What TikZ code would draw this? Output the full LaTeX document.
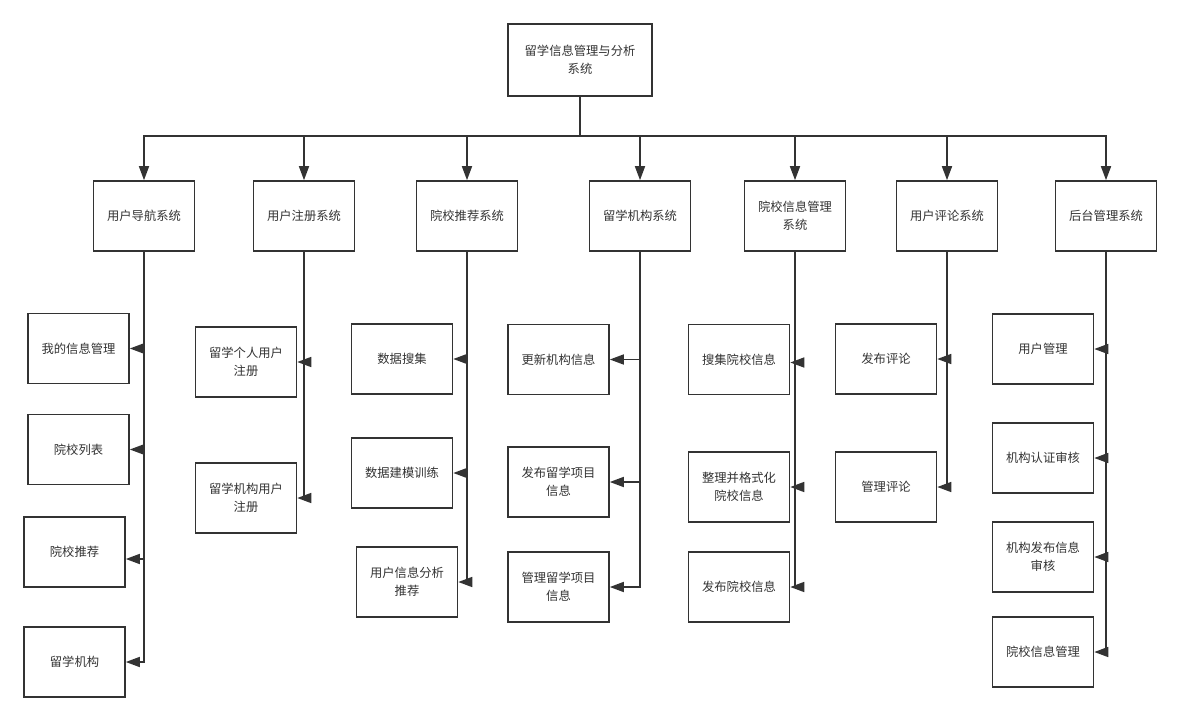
\documentclass[tikz,border=0pt]{standalone}
\usepackage{fontspec}
\setmainfont{Noto Sans CJK SC}
\usetikzlibrary{arrows.meta}
\definecolor{ln}{HTML}{333333}
\definecolor{tx}{HTML}{333333}
\tikzset{
  box/.style={draw=ln, line width=1.6pt, fill=white, minimum width=101pt, minimum height=70pt,
    inner sep=2pt, align=center, text=tx, font=\fontsize{12.3}{18}\selectfont},
  rootbox/.style={box, minimum width=144pt, minimum height=72pt},
  arr/.style={draw=ln, line width=1.6pt, -{Triangle[length=14pt,width=10pt]}},
  lnk/.style={draw=ln, line width=1.6pt}
}
\begin{document}
\begin{tikzpicture}[x=1pt,y=-1pt]
\useasboundingbox (0,0) rectangle (1180,722);
\fill[white] (0,0) rectangle (1180,722);
% root
\node[rootbox] (root) at (580,60) {留学信息管理与分析\\系统};
\coordinate (bus) at (580,136);
% level 2
\node[box] (l1) at (144,216) {用户导航系统};
\node[box] (l2) at (304,216) {用户注册系统};
\node[box] (l3) at (467,216) {院校推荐系统};
\node[box] (l4) at (640,216) {留学机构系统};
\node[box] (l5) at (795,216) {院校信息管理\\系统};
\node[box] (l6) at (947,216) {用户评论系统};
\node[box] (l7) at (1106,216) {后台管理系统};
\draw[lnk] (root.south) -- (bus);
\foreach \n in {l1,l2,l3,l4,l5,l6,l7}{
  \draw[arr] (bus) -| (\n.north);
}
% column 1
\node[box] (a1) at (78.5,348.5) {我的信息管理};
\node[box] (a2) at (78.5,449.5) {院校列表};
\node[box] (a3) at (74.5,552) {院校推荐};
\node[box] (a4) at (74.5,662) {留学机构};
% column 2
\node[box] (b1) at (246,362) {留学个人用户\\注册};
\node[box] (b2) at (246,498) {留学机构用户\\注册};
% column 3
\node[box] (c1) at (402,359) {数据搜集};
\node[box] (c2) at (402,473) {数据建模训练};
\node[box] (c3) at (407,582) {用户信息分析\\推荐};
% column 4
\node[box] (d1) at (558.5,359.5) {更新机构信息};
\node[box] (d2) at (558.5,482) {发布留学项目\\信息};
\node[box] (d3) at (558.5,587) {管理留学项目\\信息};
% column 5
\node[box] (e1) at (739,359.5) {搜集院校信息};
\node[box] (e2) at (739,487) {整理并格式化\\院校信息};
\node[box] (e3) at (739,587) {发布院校信息};
% column 6
\node[box] (f1) at (886,359) {发布评论};
\node[box] (f2) at (886,487) {管理评论};
% column 7
\node[box] (g1) at (1043,349) {用户管理};
\node[box] (g2) at (1043,458) {机构认证审核};
\node[box] (g3) at (1043,557) {机构发布信息\\审核};
\node[box] (g4) at (1043,652) {院校信息管理};
% connectors
\draw[arr] (l1.south) |- (a1.east);
\draw[arr] (l1.south) |- (a2.east);
\draw[arr] (l1.south) |- ([yshift=-7pt]a3.east);
\draw[arr] (l1.south) |- (a4.east);
\draw[arr] (l2.south) |- (b1.east);
\draw[arr] (l2.south) |- (b2.east);
\draw[arr] (l3.south) |- (c1.east);
\draw[arr] (l3.south) |- (c2.east);
\draw[arr] (l3.south) |- (c3.east);
\draw[arr] (l4.south) |- (d1.east);
\draw[arr] (l4.south) |- (d2.east);
\draw[arr] (l4.south) |- (d3.east);
\draw[arr] (l5.south) |- ([yshift=-3pt]e1.east);
\draw[arr] (l5.south) |- (e2.east);
\draw[arr] (l5.south) |- (e3.east);
\draw[arr] (l6.south) |- (f1.east);
\draw[arr] (l6.south) |- (f2.east);
\draw[arr] (l7.south) |- (g1.east);
\draw[arr] (l7.south) |- (g2.east);
\draw[arr] (l7.south) |- (g3.east);
\draw[arr] (l7.south) |- (g4.east);
\end{tikzpicture}
\end{document}
